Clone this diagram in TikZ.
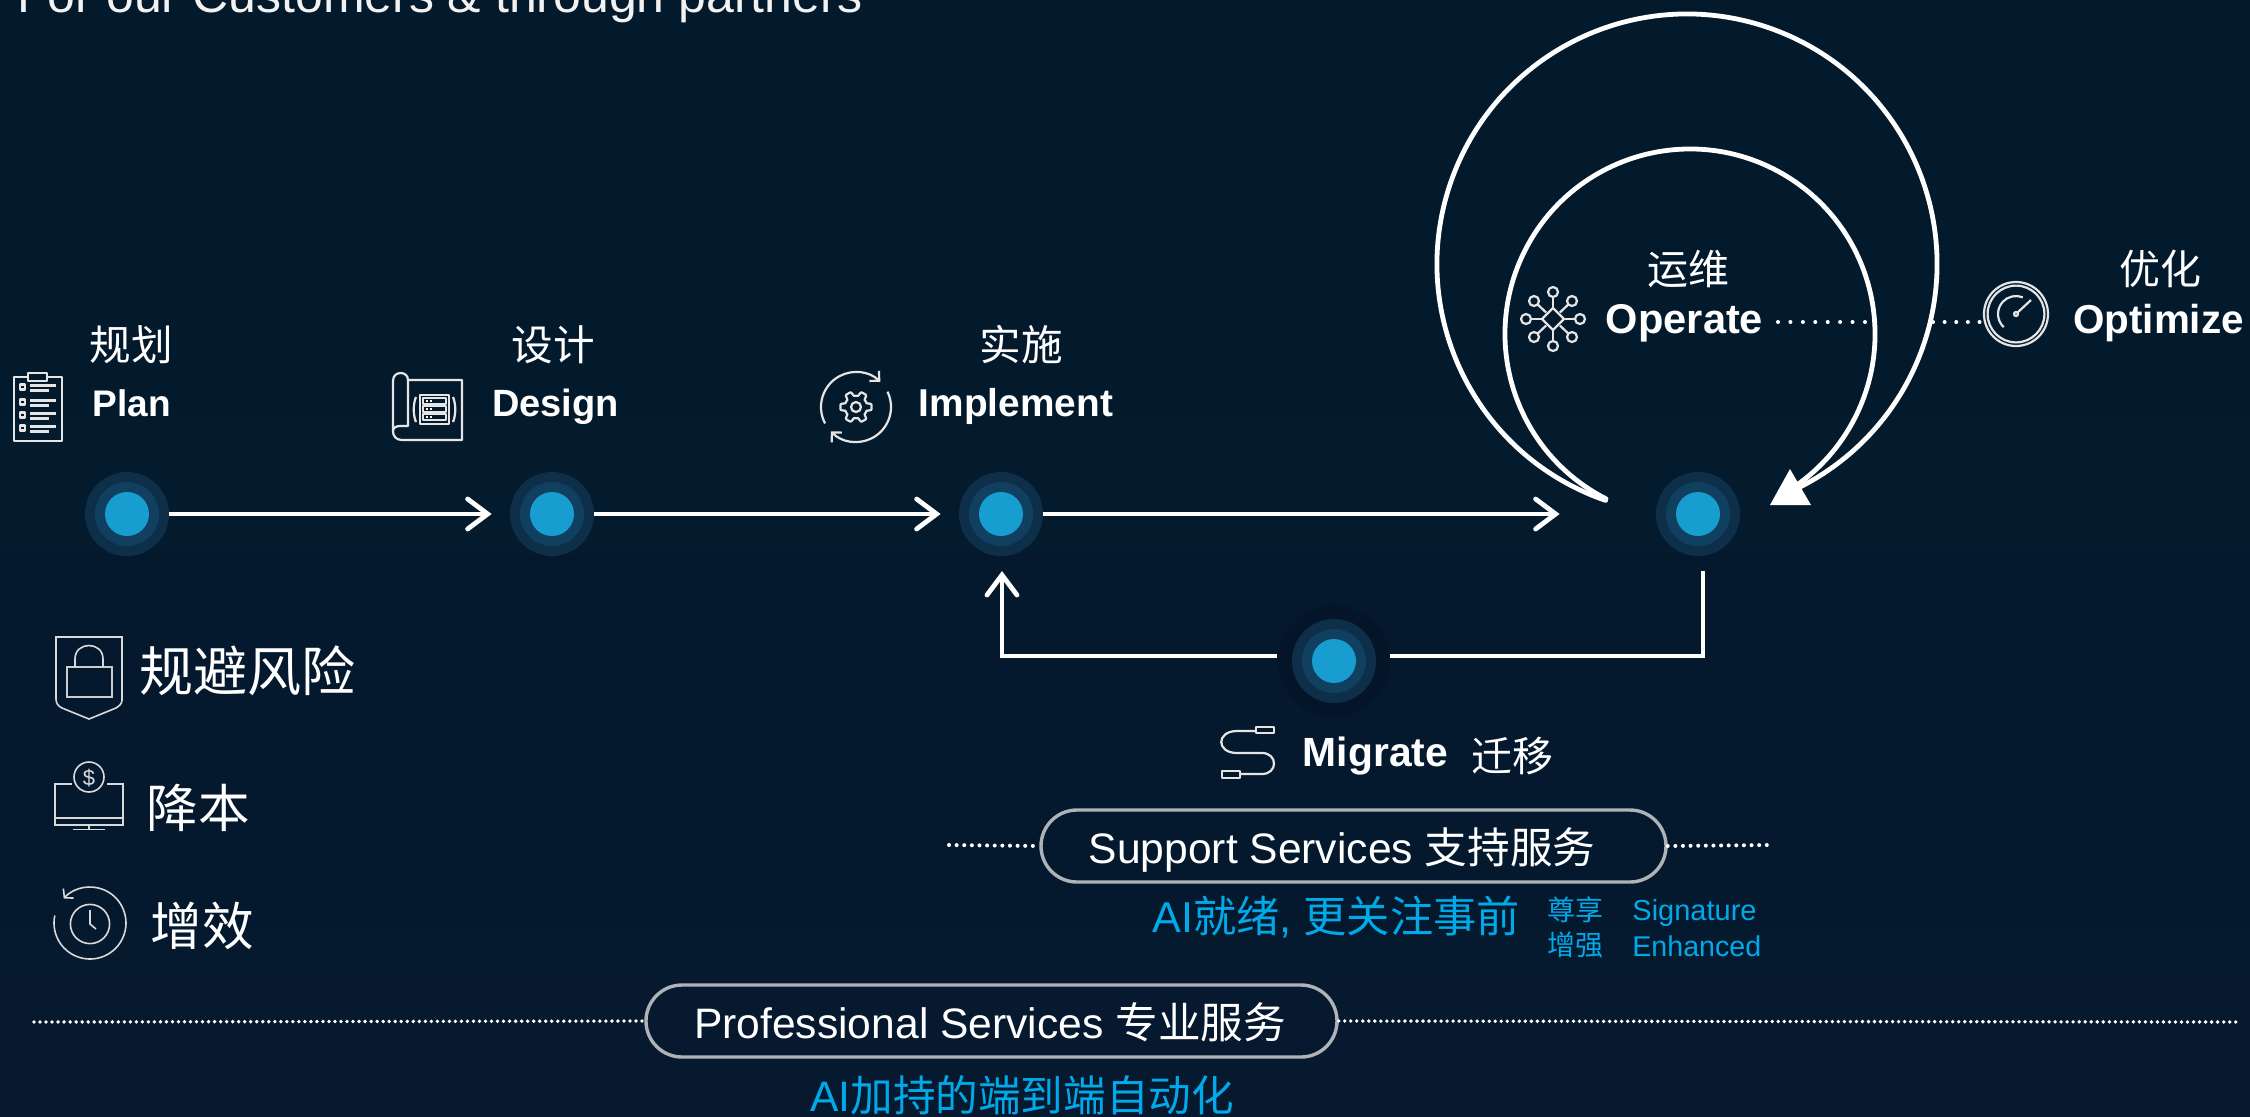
\documentclass[tikz,border=0pt]{standalone}
\usepackage{fontspec}
\usetikzlibrary{arrows.meta,calc}
\setmainfont{Liberation Sans}
\newfontfamily\cjk{Noto Sans CJK SC}
\newcommand{\fz}[1]{\fontsize{#1pt}{#1pt}\selectfont}
\definecolor{bgtop}{HTML}{021A2C}
\definecolor{bgbot}{HTML}{06192F}
\definecolor{halo}{HTML}{0E2F49}
\definecolor{midc}{HTML}{103F60}
\definecolor{corec}{HTML}{179DCF}
\definecolor{deep}{HTML}{04152A}
\definecolor{cyant}{HTML}{00A9E8}
\definecolor{pillc}{HTML}{AEB3B8}
\tikzset{
  dotnode/.style={circle,fill=halo,minimum size=42pt,inner sep=0pt,
    path picture={\fill[midc] (path picture bounding box.center) circle (16pt);
                  \fill[corec] (path picture bounding box.center) circle (11pt);}},
  dotwide/.style={circle,fill=deep,minimum size=56pt,inner sep=0pt,
    path picture={\fill[halo] (path picture bounding box.center) circle (21pt);
                  \fill[midc] (path picture bounding box.center) circle (16pt);
                  \fill[corec] (path picture bounding box.center) circle (11pt);}},
  flow/.style={draw=white,line width=2.4pt,-{Straight Barb[length=10pt,width=15pt,line cap=round]}},
  plainline/.style={draw=white,line width=2.4pt,line join=miter},
  loopline/.style={draw=white,line width=2.4pt,line cap=round},
  icon/.style={draw=white!90!black,line width=1.1pt,line join=round},
  icons/.style={draw=white!85!black,line width=.8pt,line join=miter},
  dotsa/.style={draw=white,line width=2pt,line cap=round,dash pattern=on .01pt off 5.8pt},
  dotsb/.style={draw=white,line width=2pt,line cap=round,dash pattern=on .01pt off 3.8pt},
  dotsc/.style={draw=white,line width=1.9pt,line cap=round,dash pattern=on .01pt off 3pt},
  lbl/.style={anchor=base,inner sep=0pt,text=white},
  cy/.style={anchor=base,inner sep=0pt,text=cyant},
}
\begin{document}
\begin{tikzpicture}[x=0.5pt,y=-0.5pt]
\useasboundingbox (0,0) rectangle (2250,1116);
\clip (0,0) rectangle (2250,1116);
\shade[top color=bgtop,bottom color=bgbot] (0,0) rectangle (2250,1116);

\node[lbl,anchor=base west,text=white!95!black] (title) at (17,12) {\fz{25}For our Customers \& through partners};

% process dots
\node[dotnode] (plan) at (127,514) {};
\node[dotnode] (design) at (552,514) {};
\node[dotnode] (impl) at (1001,514) {};
\node[dotnode] (oper) at (1698,514) {};
\node[dotwide] (migr) at (1334,661) {};

% connectors
\draw[flow,shorten >=9pt] (plan) -- (design);
\draw[flow,shorten >=9pt] (design) -- (impl);
\draw[flow,shorten >=48pt] (impl) -- (oper);
\coordinate (opdown) at (1703,571);
\coordinate (mright) at (1390,656);
\coordinate (mleft) at (1277,656);
\coordinate (impup) at (1002,571);
\draw[plainline] (opdown) |- (mright);
\draw[flow] (mleft) -| (impup);

% loops
\coordinate (outerc) at (1687,264);
\coordinate (innerc) at (1690,334);
\draw[loopline] ([shift={(251:125pt)}]outerc) arc[start angle=251,end angle=-63.7,radius=125pt];
\draw[loopline] ([shift={(243:92.5pt)}]innerc) arc[start angle=243,end angle=-55,radius=92.5pt];
\fill[white] (1790,469) -- (1770,505) -- (1811,505) -- cycle;

% step labels
\node[lbl] (planz) at (131,360) {\fz{20.8}\cjk 规划};
\node[lbl] (plane) at (132,416) {\fz{18.5}\bfseries Plan};
\node[lbl] (desz) at (553,360) {\fz{20.8}\cjk 设计};
\node[lbl] (dese) at (555.5,416) {\fz{19}\bfseries Design};
\node[lbl] (impz) at (1021,360) {\fz{20.8}\cjk 实施};
\node[lbl] (impe) at (1016,416) {\fz{19.4}\bfseries Implement};
\node[lbl] (opz) at (1688,284) {\fz{20.5}\cjk 运维};
\node[lbl] (ope) at (1684.5,333) {\fz{20.8}\bfseries Operate};
\node[lbl] (optz) at (2160,284) {\fz{20.5}\cjk 优化};
\node[lbl] (opte) at (2158.5,333) {\fz{20.2}\bfseries Optimize};
\node[lbl] (mige) at (1375.5,766) {\fz{20.4}\bfseries Migrate};
\node[lbl] (migz) at (1512.5,771) {\fz{20.5}\cjk 迁移};

% operate/optimize dotted
\coordinate (da1) at (1778,322);\coordinate (da2) at (1867,322);
\coordinate (db1) at (1933,322);\coordinate (db2) at (1981,322);
\draw[dotsa,dash pattern=on .01pt off 6.2pt] (da1) -- (da2);
\draw[dotsa] (db1) -- (db2);

% benefits
\node[lbl] (risk) at (247.5,691) {\fz{27}\cjk 规避风险};
\node[lbl] (cost) at (198.5,827) {\fz{25.8}\cjk 降本};
\node[lbl] (eff) at (202.5,945) {\fz{25.8}\cjk 增效};

% pills
\node[draw=pillc,line width=1.7pt,rounded corners=18pt,minimum width=312.5pt,minimum height=36pt,inner sep=0pt] (sup) at (1353.5,846) {};
\node[draw=pillc,line width=1.7pt,rounded corners=18pt,minimum width=345.5pt,minimum height=36pt,inner sep=0pt] (pro) at (991.5,1021) {};
\node[lbl] (supt) at (1342,863) {\fz{21.3}Support Services {\cjk 支持服务}};
\node[lbl] (prot) at (990,1038) {\fz{21.3}Professional Services {\cjk 专业服务}};
\coordinate (sl) at (949,845);\coordinate (sr) at (1770,845);
\coordinate (pl) at (34,1022);\coordinate (pr) at (2240,1022);
\draw[dotsb] (sl) -- (sup.west);
\draw[dotsb] (sup.east) -- (sr);
\draw[dotsc] (pl) -- (pro.west);
\draw[dotsc] (pro.east) -- (pr);

\node[cy] (ai1) at (1336,932) {\fz{21.6}AI{\cjk 就绪}, {\cjk 更关注事前}};
\node[cy] (zx) at (1575,920) {\fz{14}\cjk 尊享};
\node[cy] (zq) at (1575,955) {\fz{14}\cjk 增强};
\node[cy,anchor=base west] (sig) at (1632,920) {\fz{14.5}Signature};
\node[cy,anchor=base west] (enh) at (1632,956) {\fz{14.3}Enhanced};
\node[cy] (ai2) at (1022,1111) {\fz{21.3}AI{\cjk 加持的端到端自动化}};

% clipboard icon
\draw[icon] (14,377) rectangle (62,441);
\draw[icon,fill=bgtop] (28,373) rectangle (47,381);
\foreach \yy in {387,402,415,428}{
  \draw[icon] (20,\yy-2.5) rectangle (25,\yy+2.5);
  \draw[icon] (30,\yy-1.5) -- (56,\yy-1.5);
  \draw[icon] (30,\yy+3.5) -- (49,\yy+3.5);
}
% design icon
\draw[icon] (408,380) -- (462,380) -- (462,440) -- (402,440) .. controls (396,440) and (393,436) .. (393,431) -- (393,381) .. controls (393,375) and (397,373) .. (401,373) .. controls (405,373) and (408,376) .. (408,380) -- (408,426) -- (400,426) .. controls (396,426) and (393,428) .. (393,431);
\draw[icon] (420,395) rectangle (449,424);
\foreach \yy in {398,406,414}{
  \draw[icon,line width=.7pt] (423,\yy) rectangle (446,\yy+6);
  \fill[white] (426,\yy+2) rectangle (428,\yy+4);
  \fill[white] (430,\yy+2) rectangle (432,\yy+4);
}
\draw[icon] (416,397) .. controls (413,404) and (413,415) .. (416,422);
\draw[icon] (453,397) .. controls (456,404) and (456,415) .. (453,422);
% implement icon
\coordinate (ic) at (856,407);
\draw[icon,-{Straight Barb[length=3.5pt,width=7pt]}] ([shift={(208:17.5pt)}]ic) arc[start angle=208,end angle=46,radius=17.5pt];
\draw[icon,-{Straight Barb[length=3.5pt,width=7pt]}] ([shift={(26:17.5pt)}]ic) arc[start angle=26,end angle=-136,radius=17.5pt];
\begin{scope}[shift={(856,407)}]
\draw[icon] plot[domain=0:360,samples=145] (\x:{5.6pt+2.2pt*min(1,max(0,.5+1.2*cos(6*\x)))}) -- cycle;
\draw[icon] (0,0) circle (2.5pt);
\end{scope}
% operate icon
\begin{scope}[shift={(1553,319)}]
\draw[icon] (0,-11) -- (11,0) -- (0,11) -- (-11,0) -- cycle;
\foreach \dx/\dy in {0/-27,27/0,0/27,-27/0,19/-18,-19/-18,19/18,-19/18}{
  \draw[icon] ($(0,0)!.36!(\dx,\dy)$) -- ($(0,0)!.83!(\dx,\dy)$);
  \draw[icon] (\dx,\dy) circle (2.5pt);
}
\end{scope}
% optimize icon
\coordinate (gc) at (2016,314);
\draw[icon] (gc) circle (16pt);
\draw[icon] (gc) circle (14.2pt);
\draw[icon] ([shift={(227:9pt)}]gc) arc[start angle=227,end angle=68,radius=9pt];
\draw[icon] (gc) circle (1pt);
\draw[icon] (2017,313) -- (2031,300);
% shield icon
\draw[icons] (56,637) -- (122,637) -- (122,700) .. controls (122,704) and (119,706) .. (116,708) -- (89,719) -- (62,708) .. controls (58,706) and (56,703) .. (56,699) -- cycle;
\draw[icons,line width=1.1pt,draw=white!80!black] (67,667) rectangle (112,697);
\draw[icons] (75,667) -- (75,659) .. controls (75,641) and (103,641) .. (103,659) -- (103,667);
% monitor icon
\draw[icons] (72,784) -- (55,784) -- (55,825) -- (123,825) -- (123,784) -- (107,784);
\draw[icons] (55,818) -- (123,818);
\draw[icons] (89,825) -- (89,829.5);
\draw[icons] (73,829.5) -- (105,829.5);
\draw[icons] (89,777) circle (7.5pt);
\node[lbl,text=white!85!black] (dollar) at (89,785) {\fz{11}\$};
% clock icon
\coordinate (cc) at (90,923);
\draw[icons,-{Straight Barb[length=3pt,width=7pt]}] ([shift={(168:18pt)}]cc) arc[start angle=168,end angle=497,radius=18pt];
\draw[icons] (90,924) circle (9.8pt);
\draw[icons] (90,910) -- (90,924) -- (96,929);
% migrate icon
\draw[icon] (1256,727) rectangle (1274,733);
\draw[icon] (1222,771) rectangle (1240,778);
\draw[icon] (1256,731) -- (1237,731) .. controls (1216,731) and (1216,753) .. (1237,753) -- (1262,753) .. controls (1278,753) and (1278,774) .. (1262,774) -- (1240,774);
\end{tikzpicture}
\end{document}
